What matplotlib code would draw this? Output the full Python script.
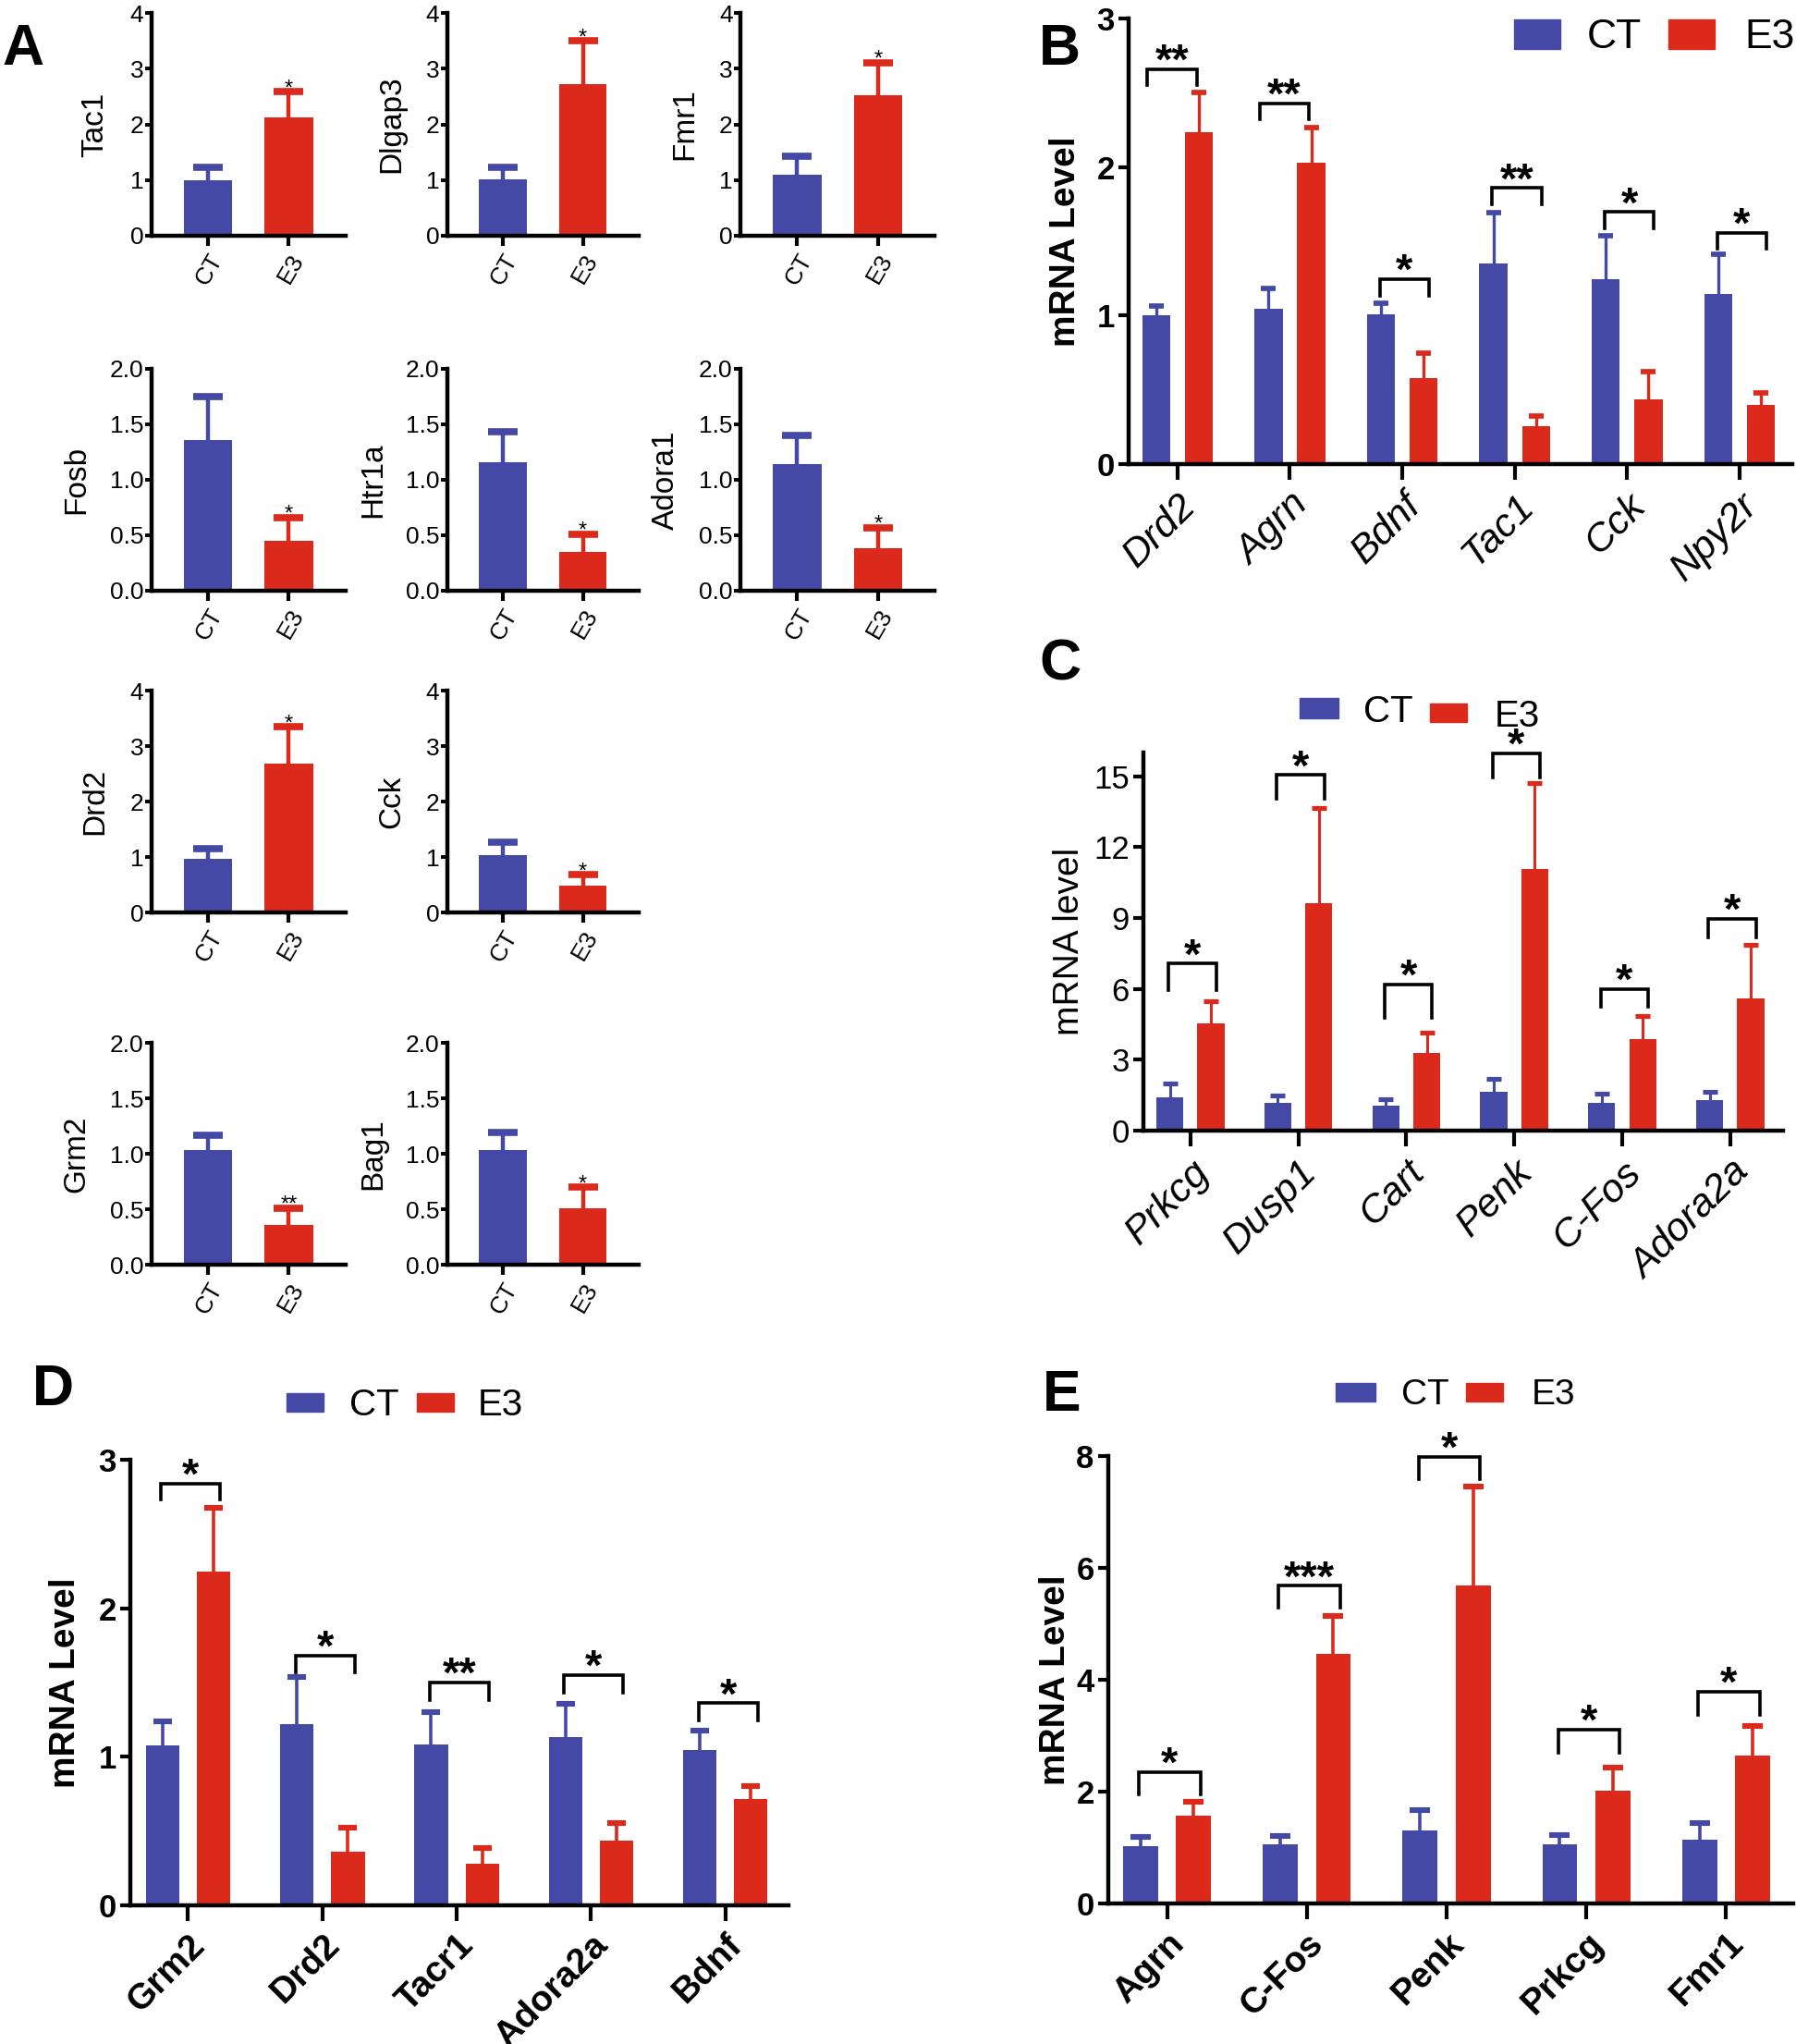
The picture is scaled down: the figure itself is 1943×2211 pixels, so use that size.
import numpy as np
import matplotlib
matplotlib.use('Agg')
import matplotlib.pyplot as plt
from matplotlib.patches import Rectangle
from matplotlib import font_manager

W, H = 1943, 2211
BLUE = '#4549A6'
RED = '#DB2A1C'
plt.rcParams['font.family'] = ['Liberation Sans', 'DejaVu Sans']
_names = {f.name for f in font_manager.fontManager.ttflist}
if 'Liberation Sans Narrow' in _names:
    NARROW = ['Liberation Sans Narrow', 'DejaVu Sans']
else:
    NARROW = ['Liberation Sans', 'DejaVu Sans']

# ---------------- data ----------------
groups = ['CT', 'E3']

# Panel A (single-gene panels)
a_genes = ['Tac1', 'Dlgap3', 'Fmr1', 'Fosb', 'Htr1a', 'Adora1', 'Drd2', 'Cck', 'Grm2', 'Bag1']
a_ct = [0.99, 1.01, 1.09, 1.36, 1.16, 1.14, 0.96, 1.04, 1.03, 1.03]
a_ct_err = [0.24, 0.21, 0.33, 0.39, 0.27, 0.26, 0.185, 0.22, 0.14, 0.16]
a_e3 = [2.13, 2.72, 2.52, 0.45, 0.35, 0.38, 2.68, 0.49, 0.36, 0.51]
a_e3_err = [0.46, 0.78, 0.59, 0.21, 0.16, 0.19, 0.67, 0.19, 0.15, 0.19]
a_sig = ['*', '*', '*', '*', '*', '*', '*', '*', '**', '*']
a_ymax = [4, 4, 4, 2, 2, 2, 4, 4, 2, 2]

# Panel B
b_genes = ['Drd2', 'Agrn', 'Bdnf', 'Tac1', 'Cck', 'Npy2r']
b_ct = [1.00, 1.045, 1.01, 1.35, 1.246, 1.146]
b_ct_err = [0.065, 0.135, 0.074, 0.345, 0.289, 0.268]
b_e3 = [2.232, 2.028, 0.58, 0.253, 0.434, 0.40]
b_e3_err = [0.27, 0.24, 0.17, 0.07, 0.19, 0.08]
b_sig = ['**', '**', '*', '**', '*', '*']
b_br_top = [2.66, 2.43, 1.244, 1.858, 1.698, 1.556]
b_br_bot = [2.55, 2.32, 1.135, 1.747, 1.587, 1.45]
b_br_shift = [-0.07, -0.07, 0.0, 0.0, 0.0, 0.0]

# Panel C
c_genes = ['Prkcg', 'Dusp1', 'Cart', 'Penk', 'C-Fos', 'Adora2a']
c_ct = [1.39, 1.17, 1.07, 1.63, 1.17, 1.30]
c_ct_err = [0.60, 0.33, 0.27, 0.57, 0.38, 0.33]
c_e3 = [4.52, 9.63, 3.27, 11.06, 3.87, 5.60]
c_e3_err = [0.96, 4.02, 0.87, 3.65, 0.97, 2.28]
c_sig = ['*', '*', '*', '*', '*', '*']
c_br_top = [7.07, 15.05, 6.18, 15.96, 6.0, 8.96]
c_br_bot = [5.96, 14.04, 4.79, 14.95, 5.24, 8.19]
c_br_shift = [0.0, 0.0, 0.0, 0.0, 0.0, 0.0]

# Panel D
d_genes = ['Grm2', 'Drd2', 'Tacr1', 'Adora2a', 'Bdnf']
d_ct = [1.076, 1.22, 1.08, 1.13, 1.048]
d_ct_err = [0.164, 0.32, 0.22, 0.224, 0.13]
d_e3 = [2.245, 0.363, 0.278, 0.435, 0.716]
d_e3_err = [0.43, 0.157, 0.106, 0.118, 0.084]
d_sig = ['*', '*', '**', '*', '*']
d_br_top = [2.84, 1.68, 1.50, 1.55, 1.36]
d_br_bot = [2.73, 1.57, 1.38, 1.43, 1.245]
d_br_shift = [0.0, 0.0, 0.0, 0.0, 0.0]

# Panel E
e_genes = ['Agrn', 'C-Fos', 'Penk', 'Prkcg', 'Fmr1']
e_ct = [1.03, 1.05, 1.31, 1.05, 1.14]
e_ct_err = [0.16, 0.16, 0.36, 0.17, 0.29]
e_e3 = [1.57, 4.46, 5.68, 2.02, 2.64]
e_e3_err = [0.24, 0.68, 1.77, 0.41, 0.53]
e_sig = ['*', '***', '*', '*', '*']
e_br_top = [2.35, 5.68, 7.99, 3.11, 3.79]
e_br_bot = [1.95, 5.29, 7.59, 2.70, 3.38]
e_br_shift = [0.0, 0.0, 0.0, 0.0, 0.0]

# ---------------- figure ----------------
fig = plt.figure(figsize=(W / 100, H / 100), dpi=100)


def add_ax(left, top, right, bottom):
    return fig.add_axes([left / W, 1 - bottom / H, (right - left) / W, (bottom - top) / H])


def style_spines(ax, lw):
    for s in ['top', 'right']:
        ax.spines[s].set_visible(False)
    for s in ['left', 'bottom']:
        ax.spines[s].set_linewidth(lw)


def upper_err(ax, x, v, e, col, elw, capsize, capthick):
    x = np.atleast_1d(x)
    v = np.atleast_1d(v)
    e = np.atleast_1d(e)
    _, caps, _ = ax.errorbar(x, v, yerr=[np.zeros_like(e), e], fmt='none', ecolor=col,
                             elinewidth=elw, capsize=capsize, capthick=capthick,
                             zorder=3, clip_on=False)
    # hide the lower caps (they sit on the bar tops)
    for cl in caps:
        yd = np.asarray(cl.get_ydata(), dtype=float)
        if np.allclose(yd, v):
            cl.set_visible(False)


# ---- Panel A ----
a_cols = [(163.6, 373.7), (483.6, 691), (801, 1011)]
a_rows = [(14, 255), (399, 639), (747, 987), (1128, 1368)]
a_layout = [(0, 0), (0, 1), (0, 2), (1, 0), (1, 1), (1, 2), (2, 0), (2, 1), (3, 0), (3, 1)]

for i, gene in enumerate(a_genes):
    r, c = a_layout[i]
    ax = add_ax(a_cols[c][0], a_rows[r][0], a_cols[c][1], a_rows[r][1])
    x = np.arange(len(groups))
    vals = [a_ct[i], a_e3[i]]
    errs = [a_ct_err[i], a_e3_err[i]]
    cols = [BLUE, RED]
    ax.bar(x, vals, width=0.6, color=cols, zorder=2)
    for xi, v, e, col in zip(x, vals, errs, cols):
        upper_err(ax, xi, v, e, col, 3.2, 11.5, 5.5)
    ax.annotate(a_sig[i], xy=(1, a_e3[i] + a_e3_err[i]), xytext=(0, 2),
                textcoords='offset points', ha='center', va='center', fontsize=17)
    ymax = a_ymax[i]
    ax.set_ylim(0, ymax)
    ax.set_xlim(-0.7, 1.7)
    if ymax == 4:
        ticks = [0, 1, 2, 3, 4]
        ax.set_yticks(ticks)
        ax.set_yticklabels([str(t) for t in ticks], family=NARROW, fontsize=19)
        ax.yaxis.set_label_coords(-0.215, 0.5)
    else:
        ticks = [0, 0.5, 1.0, 1.5, 2.0]
        ax.set_yticks(ticks)
        ax.set_yticklabels(['%.1f' % t for t in ticks], family=NARROW, fontsize=19)
        ax.yaxis.set_label_coords(-0.31, 0.5)
    ax.set_xticks(x)
    ax.set_xticklabels(groups, rotation=60, ha='right', va='top',
                       rotation_mode='anchor', fontsize=19)
    ax.set_ylabel(gene, fontsize=24)
    style_spines(ax, 3.2)
    ax.tick_params(axis='y', length=5, width=2.8, pad=1)
    ax.tick_params(axis='x', length=8, width=3, pad=3)


# ---- grouped panels ----
def grouped(rect, genes, ct, ct_err, e3, e3_err, sig, br_top, br_bot, br_shift,
            ylim, yticks, xlim, ylabel, ylab_bold, ytick_font, ytick_bold,
            xlab_style, xlab_weight, xlab_size, capsize, elw, label_x):
    ax = add_ax(*rect)
    x = np.arange(len(genes))
    off, w = 0.19, 0.25
    ax.bar(x - off, ct, width=w, color=BLUE, zorder=2)
    ax.bar(x + off, e3, width=w, color=RED, zorder=2)
    upper_err(ax, x - off, ct, ct_err, BLUE, elw, capsize, elw * 1.7)
    upper_err(ax, x + off, e3, e3_err, RED, elw, capsize, elw * 1.7)
    for i in range(len(genes)):
        x0 = x[i] - 0.2 + br_shift[i]
        x1 = x[i] + 0.24 + br_shift[i]
        ax.plot([x0, x0, x1, x1], [br_bot[i], br_top[i], br_top[i], br_bot[i]],
                color='black', lw=2.6, solid_joinstyle='miter', clip_on=False, zorder=4)
        ax.annotate(sig[i], xy=((x0 + x1) / 2, br_top[i]), xytext=(0, 5),
                    textcoords='offset points', ha='center', va='center',
                    fontsize=34, fontweight='bold', annotation_clip=False)
    ax.set_xlim(*xlim)
    ax.set_ylim(*ylim)
    ax.set_yticks(yticks)
    ax.set_yticklabels([str(t) for t in yticks], family=ytick_font, fontsize=25,
                       fontweight='bold' if ytick_bold else 'normal')
    ax.set_xticks(x)
    ax.set_xticklabels(genes, rotation=45, ha='right', va='top', rotation_mode='anchor',
                       fontsize=xlab_size, style=xlab_style, fontweight=xlab_weight)
    ax.set_ylabel(ylabel, fontsize=28, fontweight='bold' if ylab_bold else 'normal')
    ax.yaxis.set_label_coords(label_x, 0.5)
    style_spines(ax, 3.2)
    ax.tick_params(axis='y', length=8, width=3, pad=3)
    ax.tick_params(axis='x', length=12, width=3, pad=6)
    return ax


grouped((1221, 20, 1939, 502), b_genes, b_ct, b_ct_err, b_e3, b_e3_err, b_sig,
        b_br_top, b_br_bot, b_br_shift, (0, 3), [0, 1, 2, 3], (-0.435, 5.47),
        'mRNA Level', True, ['Liberation Sans'], True, 'italic', 'normal', 31, 6, 2.4, -0.07)

grouped((1237, 814, 1929, 1223), c_genes, c_ct, c_ct_err, c_e3, c_e3_err, c_sig,
        c_br_top, c_br_bot, c_br_shift, (0, 16.0), [0, 3, 6, 9, 12, 15], (-0.435, 5.49),
        'mRNA level', False, NARROW, False, 'italic', 'normal', 31, 6, 2.2, -0.09)

grouped((141, 1579, 853, 2061), d_genes, d_ct, d_ct_err, d_e3, d_e3_err, d_sig,
        d_br_top, d_br_bot, d_br_shift, (0, 3), [0, 1, 2, 3], (-0.43, 4.47),
        'mRNA Level', True, ['Liberation Sans'], True, 'normal', 'bold', 28, 7, 2.6, -0.073)

grouped((1199, 1575, 1940, 2059), e_genes, e_ct, e_ct_err, e_e3, e_e3_err, e_sig,
        e_br_top, e_br_bot, e_br_shift, (0, 8), [0, 2, 4, 6, 8], (-0.42, 4.48),
        'mRNA Level', True, ['Liberation Sans'], True, 'normal', 'bold', 28, 8, 2.6, -0.052)


# ---- legends (drawn in figure pixel space) ----
def legend_px(bx, by, bw, bh, tx, ty, rx, ry, rw, rh, ex, ey, size):
    for (px, py, pw, ph, col) in [(bx, by, bw, bh, BLUE), (rx, ry, rw, rh, RED)]:
        fig.add_artist(Rectangle((px / W, 1 - (py + ph / 2) / H), pw / W, ph / H,
                                 transform=fig.transFigure, color=col))
    fig.text(tx / W, 1 - ty / H, groups[0], family=NARROW, fontsize=size, va='center', ha='left')
    fig.text(ex / W, 1 - ey / H, groups[1], family=NARROW, fontsize=size, va='center', ha='left')


legend_px(1638, 37, 50, 32, 1717, 40, 1805, 37, 50, 32, 1887, 40, 32)
legend_px(1406, 766, 42, 22, 1475, 770, 1547, 771, 40, 20, 1617, 775, 29)
legend_px(310, 1517, 40, 20, 378, 1520, 451, 1517, 40, 20, 517, 1520, 29)
legend_px(1445, 1506, 43, 20, 1516, 1509, 1586, 1506, 40, 20, 1657, 1509, 28)

# ---- panel letters ----
for letter, lx, ly in [('A', 2, 70), ('B', 1124, 70), ('C', 1124, 736),
                       ('D', 35, 1520), ('E', 1128, 1526)]:
    fig.text(lx / W, 1 - ly / H, letter, fontsize=45, fontweight='bold',
             va='baseline', ha='left')

fig.savefig('out.png', dpi=100)
